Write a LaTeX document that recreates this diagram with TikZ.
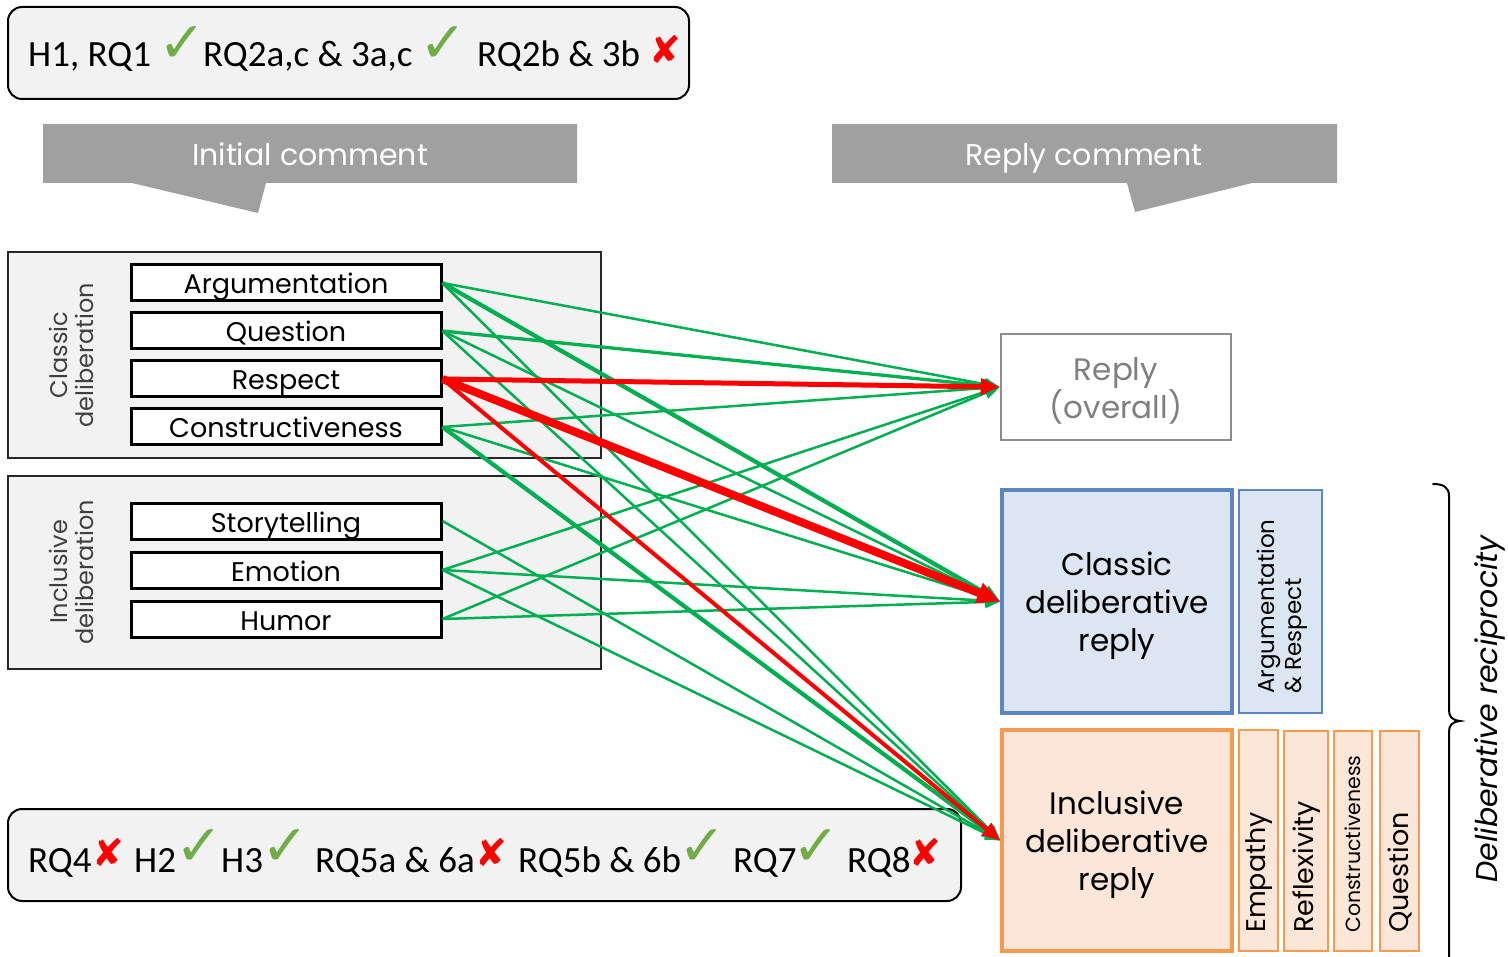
\documentclass[tikz,border=0pt]{standalone}
\usepackage{fontspec}
\setmainfont{Poppins}
\newfontfamily\calib{Carlito}
\newfontfamily\symb{DejaVu Sans}
\usetikzlibrary{arrows.meta}

\definecolor{panel}{HTML}{F2F2F2}
\definecolor{bannergray}{HTML}{A0A0A0}
\definecolor{okgreen}{HTML}{70AD47}
\definecolor{nored}{HTML}{FF0000}
\definecolor{linkgreen}{HTML}{00B050}
\definecolor{linkred}{HTML}{FF0000}
\definecolor{labelgray}{HTML}{404040}
\definecolor{replygray}{HTML}{8C8C8C}
\definecolor{replytext}{HTML}{7F7F7F}
\definecolor{classicfill}{HTML}{DCE6F2}
\definecolor{classicline}{HTML}{5B86C3}
\definecolor{inclfill}{HTML}{FCE6D8}
\definecolor{inclline}{HTML}{F79A50}

\tikzset{
  resbox/.style={draw=black, line width=2pt, fill=panel, rounded corners=14pt, inner sep=0},
  restext/.style={font=\calib\fontsize{37}{40}\selectfont, anchor=base west, inner sep=0},
  okmark/.style={font=\symb\fontsize{57}{57}\selectfont, text=okgreen, inner sep=0},
  nomark/.style={font=\symb\fontsize{38}{38}\selectfont, text=nored, inner sep=0},
  banner/.style={fill=bannergray},
  bannertext/.style={text=white, inner sep=0, anchor=base,
                     font=\fontsize{30}{32}\selectfont},
  groupbox/.style={draw=black!85, line width=2pt, fill=panel, inner sep=0},
  grouplabel/.style={rotate=90, align=center, text=labelgray, inner sep=0,
                     font=\fontsize{24}{26}\selectfont},
  itembox/.style={draw=black, line width=3pt, fill=white, minimum width=310pt,
                  minimum height=36pt, inner sep=0, text height=26pt, text depth=4pt,
                  font=\fontsize{27}{30}\selectfont},
  bigtext/.style={align=center, inner sep=0, font=\fontsize{31}{38}\selectfont},
  overallbox/.style={draw=replygray, line width=2.5pt, fill=white, inner sep=0},
  classicbox/.style={draw=classicline, line width=3.5pt, fill=classicfill, inner sep=0},
  classicside/.style={draw=classicline, line width=2.5pt, fill=classicfill, inner sep=0},
  inclbox/.style={draw=inclline, line width=3.5pt, fill=inclfill, inner sep=0},
  inclside/.style={draw=inclline, line width=2.5pt, fill=inclfill, inner sep=0},
  sidetext/.style={rotate=90, anchor=west, inner sep=0, font=\fontsize{27}{30}\selectfont},
  gthin/.style={draw=linkgreen, line width=2.5pt, -{Triangle[length=15pt,width=12pt]}},
  gmid/.style={draw=linkgreen, line width=3.3pt, -{Triangle[length=16pt,width=13pt]}},
  gthick/.style={draw=linkgreen, line width=4.2pt, -{Triangle[length=18pt,width=15pt]}},
  rmid/.style={draw=linkred, line width=4pt, -{Triangle[length=18pt,width=15pt]}},
  rthick/.style={draw=linkred, line width=5pt, -{Triangle[length=19pt,width=16pt]}},
  rheavy/.style={draw=linkred, line width=8pt, -{Triangle[length=23pt,width=20pt]}},
}

\begin{document}
\begin{tikzpicture}[x=1pt,y=-1pt]
\useasboundingbox (0,0) rectangle (1508,957);

% results of the first block of hypotheses
\node[resbox, minimum width=681pt, minimum height=92pt] (topres) at (348.5,53) {};
\node[restext] (t1) at (28,67) {H1, RQ1};
\node[okmark] (t1m) at (182,45) {✓};
\node[restext] (t2) at (203,67) {RQ2a,c \& 3a,c};
\node[okmark] (t2m) at (443,45) {✓};
\node[restext] (t3) at (477,67) {RQ2b \& 3b};
\node[nomark] (t3m) at (665,49) {✘};

% column banners
\fill[banner] (43,124) -- (577,124) -- (577,183) -- (266,183) -- (258,213)
  -- (132,183) -- (43,183) -- cycle;
\node[bannertext] (initial) at (310,166) {Initial comment};
\fill[banner] (832,124) -- (1337,124) -- (1337,183) -- (1252,183) -- (1135,212)
  -- (1127,183) -- (832,183) -- cycle;
\node[bannertext] (replyc) at (1084,166) {Reply comment};

% initial comment features
\node[groupbox, minimum width=593pt, minimum height=206pt] (cgroup) at (304.5,355) {};
\node[groupbox, minimum width=593pt, minimum height=193pt] (igroup) at (304.5,572.5) {};
\node[grouplabel] (clabel) at (71,355) {Classic\\deliberation};
\node[grouplabel] (ilabel) at (71,572) {Inclusive\\deliberation};

\node[itembox] (arg) at (286,283) {Argumentation};
\node[itembox] (que) at (286,331) {Question};
\node[itembox] (res) at (286,379) {Respect};
\node[itembox] (con) at (286,427) {Constructiveness};
\node[itembox] (sto) at (286,521) {Storytelling};
\node[itembox] (emo) at (286,570) {Emotion};
\node[itembox] (hum) at (286,619) {Humor};

% results of the second block of hypotheses
\node[resbox, minimum width=953pt, minimum height=92pt] (botres) at (484.5,855) {};
\node[restext] (b1) at (28,872) {RQ4};
\node[nomark] (b1m) at (108,852) {✘};
\node[restext] (b2) at (134,872) {H2};
\node[okmark] (b2m) at (199,848) {✓};
\node[restext] (b3) at (221,872) {H3};
\node[okmark] (b3m) at (285,848) {✓};
\node[restext] (b4) at (315,872) {RQ5a \& 6a};
\node[nomark] (b4m) at (491,852) {✘};
\node[restext] (b5) at (518,872) {RQ5b \& 6b};
\node[okmark] (b5m) at (702,848) {✓};
\node[restext] (b6) at (733,872) {RQ7};
\node[okmark] (b6m) at (816,848) {✓};
\node[restext] (b7) at (847,872) {RQ8};
\node[nomark] (b7m) at (925,852) {✘};

% reply comment outcomes
\node[overallbox, minimum width=230pt, minimum height=106pt] (rep) at (1116,387) {};
\node[bigtext, text=replytext] (reptext) at (1116,391) {Reply\\(overall)};
\node[classicbox, minimum width=230pt, minimum height=223pt] (cdr) at (1117,601.5) {};
\node[bigtext] (cdrtext) at (1117,606) {Classic\\deliberative\\reply};
\node[classicside, minimum width=83pt, minimum height=223pt] (cside) at (1280.5,601.5) {};
\node[rotate=90, anchor=west, align=left, inner sep=0,
      font=\fontsize{23}{27}\selectfont] (csidetext) at (1282,694)
  {Argumentation\\\& Respect};

\node[inclbox, minimum width=230pt, minimum height=221pt] (idr) at (1117,840.5) {};
\node[bigtext] (idrtext) at (1117,845) {Inclusive\\deliberative\\reply};
\node[inclside, minimum width=39pt, minimum height=221pt] (emp) at (1258.5,840.5) {};
\node[inclside, minimum width=44pt, minimum height=220pt] (refl) at (1306,841) {};
\node[inclside, minimum width=38pt, minimum height=220pt] (cons) at (1353,841) {};
\node[inclside, minimum width=39pt, minimum height=220pt] (ques) at (1399.5,841) {};
\node[sidetext] (emptext) at (1259,933) {Empathy};
\node[sidetext] (refltext) at (1307,933) {Reflexivity};
\node[sidetext, font=\fontsize{20.5}{24}\selectfont] (constext) at (1353,933) {Constructiveness};
\node[sidetext] (questext) at (1400,933) {Question};

% brace and its label
\draw[line width=2pt, line cap=round]
  (1433,484) .. controls (1443,484) and (1449,487) .. (1449,496)
  -- (1449,710) .. controls (1449,717) and (1452,720) .. (1460,721)
  .. controls (1452,722) and (1449,725) .. (1449,732) -- (1449,965);
\node[rotate=90, inner sep=0, font=\itshape\fontsize{30}{32}\selectfont] (recip)
  at (1490,709) {Deliberative reciprocity};

% effects of initial comment features on replies
\draw[gthin] (arg.east) -- (rep.west);
\draw[gthick] (arg.east) -- (cdr.west);
\draw[gthin] (arg.east) -- (idr.west);
\draw[gmid] (que.east) -- (rep.west);
\draw[gthin] (que.east) -- (cdr.west);
\draw[gthin] (que.east) -- (idr.west);
\draw[gthin] (con.east) -- (rep.west);
\draw[gthin] (con.east) -- (cdr.west);
\draw[gthick] (con.east) -- (idr.west);
\draw[gthin] (sto.east) -- (idr.west);
\draw[gthin] (emo.east) -- (rep.west);
\draw[gthin] (emo.east) -- (cdr.west);
\draw[gthin] (emo.east) -- (idr.west);
\draw[gthin] (hum.east) -- (rep.west);
\draw[gthin] (hum.east) -- (cdr.west);
\draw[rthick] (res.east) -- (rep.west);
\draw[rheavy] (res.east) -- (cdr.west);
\draw[rmid] (res.east) -- (idr.west);
\end{tikzpicture}
\end{document}
